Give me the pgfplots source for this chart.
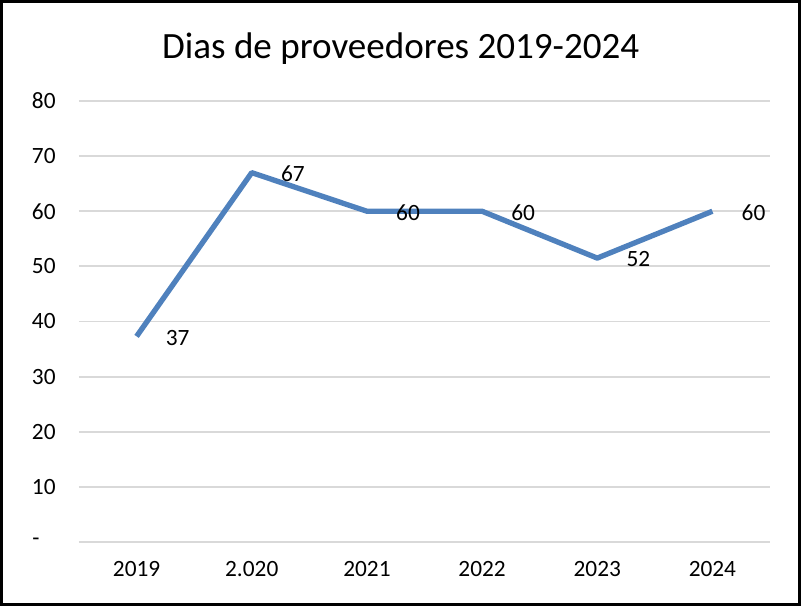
\documentclass[border=0pt]{standalone}
\usepackage{pgfplots}
\pgfplotsset{compat=1.18}
\usepackage{fontspec}
\setmainfont{Carlito}
\definecolor{lineblue}{RGB}{79,129,189}
\definecolor{gridgray}{RGB}{217,217,217}

\begin{document}
\begin{tikzpicture}
% page = 801 x 606 px, 1 px = 0.75pt
\useasboundingbox (0,0) rectangle (600.75pt,454.5pt);
\draw[line width=2.4pt] (1.2pt,1.2pt) rectangle (599.55pt,453.3pt);
\node[font=\fontsize{27.8}{32}\selectfont] at (300.5pt,418pt) {Dias de proveedores 2019-2024};
\begin{axis}[
  at={(59.25pt,48pt)}, anchor=south west,
  scale only axis, width=518.25pt, height=330.75pt,
  xmin=-0.5, xmax=5.5, ymin=0, ymax=80,
  xtick={0,...,5},
  xticklabels={2019,2.020,2021,2022,2023,2024},
  ytick={0,10,...,80},
  yticklabels={{-\hspace*{12pt}},10,20,30,40,50,60,70,80},
  ymajorgrids, grid style={gridgray, line width=1.4pt},
  axis line style={draw=none},
  major tick length=0pt,
  /pgf/number format/assume math mode=true,
  ticklabel style={font=\fontsize{17.5}{20}\selectfont},
  xticklabel style={yshift=-11pt},
  yticklabel style={xshift=-14pt},
  clip=false,
  nodes near coords,
  point meta=explicit symbolic,
  every node near coord/.style={anchor=west, inner sep=0pt, xshift=20pt, yshift=-1pt,
    font=\fontsize{17.5}{20}\selectfont, text=black},
]
\addplot[lineblue, line width=4pt, line join=round, mark=none] coordinates {
  (0,37.3) [37]
  (1,67) [67]
  (2,60) [60]
  (3,60) [60]
  (4,51.5) [52]
  (5,60) [60]
};
\end{axis}
\end{tikzpicture}
\end{document}
